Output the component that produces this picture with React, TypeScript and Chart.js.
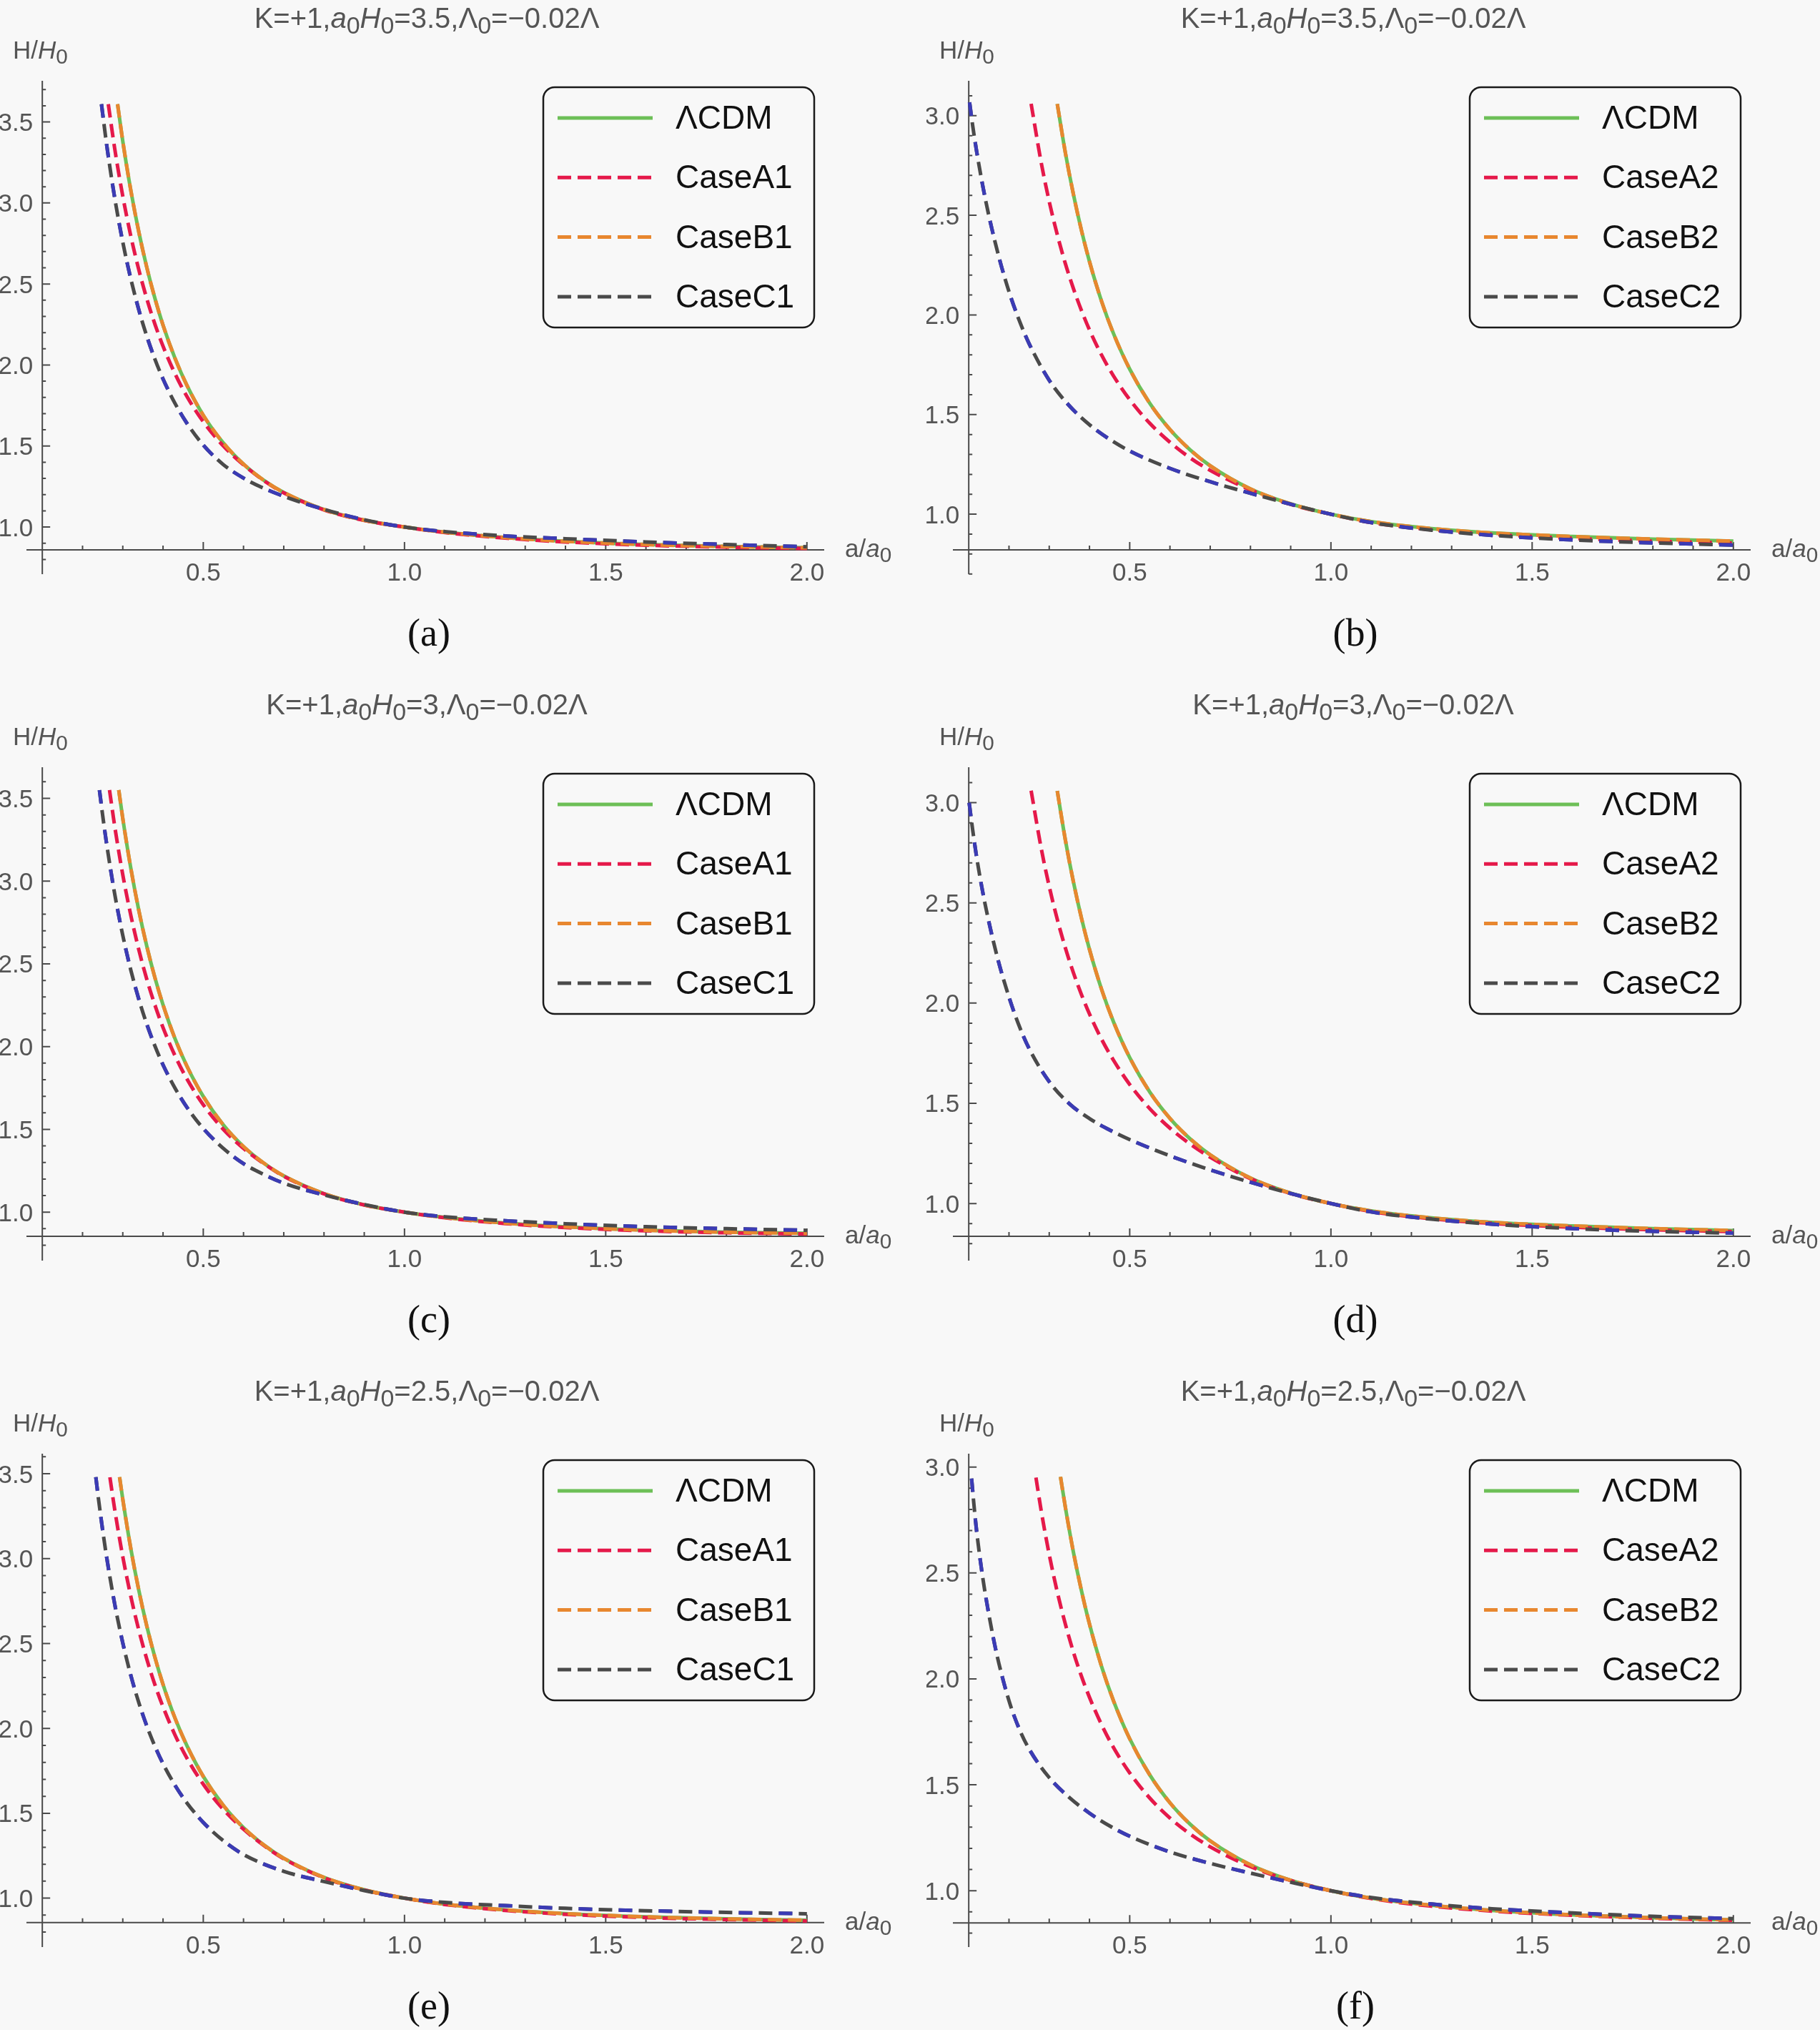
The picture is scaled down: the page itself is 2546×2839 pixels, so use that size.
import React, { useEffect, useRef } from "react";
import { Chart, registerables } from "chart.js";

Chart.register(...registerables);

type Pt = [number, number];

// ---- panel (a): K=+1, a0H0=3.5 ----
const lcdmA: Pt[] = [[0.287, 3.61], [0.30, 3.381], [0.32, 3.077], [0.34, 2.819], [0.36, 2.599], [0.38, 2.41], [0.40, 2.246], [0.43, 2.04], [0.46, 1.871], [0.50, 1.69], [0.55, 1.518], [0.60, 1.388], [0.65, 1.289], [0.70, 1.213], [0.80, 1.108], [0.90, 1.042], [1.0, 1.0], [1.1, 0.968], [1.25, 0.935], [1.4, 0.912], [1.6, 0.892], [1.8, 0.88], [2.0, 0.872]];
const caseA1a: Pt[] = [[0.264, 3.61], [0.28, 3.334], [0.30, 3.042], [0.32, 2.795], [0.34, 2.586], [0.36, 2.406], [0.38, 2.251], [0.40, 2.116], [0.43, 1.945], [0.46, 1.803], [0.50, 1.65], [0.55, 1.5], [0.60, 1.384], [0.65, 1.287], [0.70, 1.211], [0.80, 1.106], [0.90, 1.041], [1.0, 1.0], [1.1, 0.966], [1.25, 0.932], [1.4, 0.908], [1.6, 0.888], [1.8, 0.876], [2.0, 0.868]];
const caseC1a: Pt[] = [[0.247, 3.61], [0.26, 3.358], [0.28, 3.03], [0.30, 2.758], [0.32, 2.531], [0.34, 2.339], [0.36, 2.175], [0.38, 2.035], [0.40, 1.914], [0.43, 1.762], [0.46, 1.638], [0.50, 1.506], [0.55, 1.385], [0.60, 1.302], [0.645, 1.245], [0.72, 1.172], [0.82, 1.095], [0.90, 1.045], [1.0, 1.0], [1.1, 0.972], [1.25, 0.945], [1.4, 0.928], [1.6, 0.908], [1.8, 0.892], [2.0, 0.878]];

// ---- panel (b): K=+1, a0H0=3.5 ----
const lcdmB: Pt[] = [[0.32, 3.059], [0.34, 2.815], [0.36, 2.606], [0.38, 2.425], [0.40, 2.268], [0.43, 2.069], [0.46, 1.905], [0.50, 1.728], [0.55, 1.556], [0.60, 1.425], [0.65, 1.323], [0.70, 1.243], [0.80, 1.127], [0.90, 1.052], [1.0, 1.0], [1.1, 0.963], [1.25, 0.928], [1.4, 0.906], [1.6, 0.888], [1.8, 0.875], [2.0, 0.865]];
const caseA2b: Pt[] = [[0.255, 3.06], [0.28, 2.765], [0.30, 2.569], [0.32, 2.403], [0.34, 2.258], [0.36, 2.133], [0.38, 2.023], [0.40, 1.925], [0.43, 1.799], [0.46, 1.693], [0.50, 1.575], [0.55, 1.456], [0.60, 1.361], [0.65, 1.283], [0.70, 1.22], [0.80, 1.122], [0.90, 1.049], [1.0, 1.0], [1.1, 0.958], [1.25, 0.922], [1.4, 0.899], [1.6, 0.879], [1.8, 0.865], [2.0, 0.855]];
const caseC2b: Pt[] = [[0.102, 3.067], [0.11, 2.947], [0.12, 2.816], [0.135, 2.646], [0.15, 2.498], [0.175, 2.29], [0.20, 2.117], [0.225, 1.975], [0.25, 1.856], [0.30, 1.672], [0.35, 1.544], [0.40, 1.449], [0.45, 1.376], [0.50, 1.317], [0.60, 1.23], [0.70, 1.163], [0.80, 1.105], [0.90, 1.05], [1.0, 1.0], [1.1, 0.958], [1.25, 0.92], [1.4, 0.894], [1.6, 0.871], [1.8, 0.856], [2.0, 0.845]];

// ---- panel (c): K=+1, a0H0=3 ----
const lcdmC: Pt[] = [[0.29, 3.55], [0.30, 3.378], [0.32, 3.077], [0.34, 2.821], [0.36, 2.603], [0.38, 2.415], [0.40, 2.253], [0.43, 2.047], [0.46, 1.879], [0.50, 1.699], [0.55, 1.526], [0.60, 1.396], [0.65, 1.297], [0.70, 1.219], [0.80, 1.112], [0.90, 1.044], [1.0, 1.0], [1.1, 0.968], [1.25, 0.934], [1.4, 0.911], [1.6, 0.891], [1.8, 0.879], [2.0, 0.872]];
const caseA1c: Pt[] = [[0.267, 3.55], [0.28, 3.33], [0.30, 3.038], [0.32, 2.793], [0.34, 2.584], [0.36, 2.404], [0.38, 2.25], [0.40, 2.115], [0.43, 1.944], [0.46, 1.802], [0.50, 1.649], [0.55, 1.5], [0.60, 1.385], [0.65, 1.294], [0.70, 1.217], [0.80, 1.110], [0.90, 1.043], [1.0, 1.0], [1.1, 0.966], [1.25, 0.931], [1.4, 0.907], [1.6, 0.887], [1.8, 0.875], [2.0, 0.868]];
const caseC1c: Pt[] = [[0.242, 3.55], [0.25, 3.397], [0.26, 3.222], [0.28, 2.921], [0.30, 2.672], [0.32, 2.462], [0.34, 2.285], [0.36, 2.133], [0.38, 2.003], [0.40, 1.89], [0.43, 1.748], [0.46, 1.631], [0.50, 1.505], [0.55, 1.385], [0.60, 1.293], [0.65, 1.228], [0.70, 1.175], [0.80, 1.104], [0.90, 1.046], [1.0, 1.0], [1.1, 0.972], [1.25, 0.948], [1.4, 0.93], [1.6, 0.912], [1.8, 0.9], [2.0, 0.89]];

// ---- panel (d): K=+1, a0H0=3 ----
const lcdmD: Pt[] = [[0.32, 3.059], [0.34, 2.815], [0.36, 2.606], [0.38, 2.425], [0.40, 2.268], [0.43, 2.069], [0.46, 1.905], [0.50, 1.728], [0.55, 1.556], [0.60, 1.425], [0.65, 1.323], [0.70, 1.243], [0.80, 1.127], [0.90, 1.052], [1.0, 1.0], [1.1, 0.963], [1.25, 0.928], [1.4, 0.906], [1.6, 0.888], [1.8, 0.875], [2.0, 0.865]];
const caseA2d: Pt[] = [[0.255, 3.06], [0.28, 2.773], [0.30, 2.582], [0.32, 2.418], [0.34, 2.276], [0.36, 2.152], [0.38, 2.043], [0.40, 1.946], [0.43, 1.82], [0.46, 1.714], [0.50, 1.594], [0.55, 1.473], [0.60, 1.376], [0.65, 1.297], [0.70, 1.231], [0.80, 1.124], [0.90, 1.05], [1.0, 1.0], [1.1, 0.96], [1.25, 0.924], [1.4, 0.901], [1.6, 0.882], [1.8, 0.869], [2.0, 0.86]];
const caseC2d: Pt[] = [[0.101, 3.0], [0.11, 2.861], [0.12, 2.723], [0.14, 2.5], [0.17, 2.237], [0.20, 2.03], [0.225, 1.888], [0.25, 1.773], [0.30, 1.608], [0.35, 1.498], [0.40, 1.424], [0.45, 1.367], [0.50, 1.319], [0.60, 1.238], [0.70, 1.168], [0.80, 1.106], [0.90, 1.05], [1.0, 1.0], [1.1, 0.958], [1.25, 0.922], [1.4, 0.897], [1.6, 0.875], [1.8, 0.861], [2.0, 0.852]];

// ---- panel (e): K=+1, a0H0=2.5 ----
const lcdmE: Pt[] = [[0.292, 3.48], [0.30, 3.349], [0.32, 3.058], [0.34, 2.811], [0.36, 2.599], [0.38, 2.417], [0.40, 2.259], [0.43, 2.059], [0.46, 1.895], [0.50, 1.717], [0.55, 1.546], [0.60, 1.415], [0.65, 1.314], [0.70, 1.235], [0.80, 1.122], [0.90, 1.049], [1.0, 1.0], [1.1, 0.965], [1.25, 0.931], [1.4, 0.909], [1.6, 0.89], [1.8, 0.878], [2.0, 0.87]];
const caseA1e: Pt[] = [[0.268, 3.479], [0.28, 3.288], [0.30, 3.011], [0.32, 2.777], [0.34, 2.577], [0.36, 2.405], [0.38, 2.256], [0.40, 2.127], [0.43, 1.96], [0.46, 1.822], [0.50, 1.671], [0.55, 1.522], [0.60, 1.406], [0.65, 1.311], [0.70, 1.232], [0.80, 1.12], [0.90, 1.048], [1.0, 1.0], [1.1, 0.963], [1.25, 0.928], [1.4, 0.905], [1.6, 0.886], [1.8, 0.874], [2.0, 0.866]];
const caseC1e: Pt[] = [[0.233, 3.48], [0.24, 3.344], [0.25, 3.167], [0.26, 3.007], [0.28, 2.731], [0.30, 2.503], [0.32, 2.312], [0.34, 2.15], [0.36, 2.012], [0.38, 1.894], [0.40, 1.792], [0.43, 1.664], [0.46, 1.559], [0.50, 1.446], [0.55, 1.338], [0.60, 1.257], [0.70, 1.158], [0.80, 1.098], [0.90, 1.045], [1.0, 1.0], [1.1, 0.975], [1.25, 0.956], [1.4, 0.94], [1.6, 0.926], [1.8, 0.916], [2.0, 0.908]];

// ---- panel (f): K=+1, a0H0=2.5 ----
const lcdmF: Pt[] = [[0.328, 2.954], [0.34, 2.811], [0.36, 2.599], [0.38, 2.417], [0.40, 2.259], [0.43, 2.059], [0.46, 1.895], [0.50, 1.717], [0.55, 1.546], [0.60, 1.415], [0.65, 1.314], [0.70, 1.235], [0.80, 1.122], [0.90, 1.049], [1.0, 1.0], [1.1, 0.965], [1.25, 0.931], [1.4, 0.907], [1.6, 0.886], [1.8, 0.872], [2.0, 0.862]];
const caseA2f: Pt[] = [[0.267, 2.95], [0.28, 2.794], [0.30, 2.587], [0.32, 2.41], [0.34, 2.259], [0.36, 2.127], [0.38, 2.013], [0.40, 1.913], [0.43, 1.784], [0.46, 1.675], [0.50, 1.556], [0.55, 1.437], [0.60, 1.343], [0.65, 1.268], [0.70, 1.207], [0.80, 1.114], [0.90, 1.048], [1.0, 1.0], [1.1, 0.963], [1.25, 0.927], [1.4, 0.904], [1.6, 0.884], [1.8, 0.87], [2.0, 0.86]];
const caseC2f: Pt[] = [[0.107, 2.946], [0.115, 2.78], [0.12, 2.69], [0.135, 2.475], [0.15, 2.304], [0.17, 2.113], [0.20, 1.897], [0.225, 1.766], [0.25, 1.669], [0.30, 1.534], [0.35, 1.44], [0.40, 1.366], [0.45, 1.306], [0.50, 1.257], [0.60, 1.183], [0.70, 1.129], [0.80, 1.083], [0.90, 1.04], [1.0, 1.0], [1.1, 0.968], [1.25, 0.937], [1.4, 0.915], [1.6, 0.895], [1.8, 0.879], [2.0, 0.868]];

const legendLeft = ["ΛCDM", "CaseA1", "CaseB1", "CaseC1"];
const legendRight = ["ΛCDM", "CaseA2", "CaseB2", "CaseC2"];
const xMajorTicks = [0.5, 1.0, 1.5, 2.0];

const BG = "#f8f8f8";
const GREEN = "#6dbf57";
const RED = "#e5194a";
const ORANGE = "#e8872f";
const GRAY = "#4a4a4a";
const BLUE = "#3b3bb5";
const AXIS = "#4a4a4a";
const LABEL = "#555555";
const SANS = '"Liberation Sans", Arial, Helvetica, sans-serif';
const SERIF = '"Liberation Serif", "Times New Roman", serif';
const DASH = [19, 9];

const PANEL_W = 1250;

interface PanelSpec {
  id: string;
  aH: string;
  names: string[];
  lcdm: Pt[];
  caseA: Pt[];
  caseB: Pt[];
  caseC: Pt[];
  yMin: number;
  yMax: number;
  xAxisAt: number;
}

// CaseB lies right on top of ΛCDM in every panel, so it reuses those values
const panels: PanelSpec[] = [
  { id: "a", aH: "3.5", names: legendLeft, lcdm: lcdmA, caseA: caseA1a, caseB: lcdmA, caseC: caseC1a, yMin: 0.709, yMax: 3.754, xAxisAt: 0.859 },
  { id: "b", aH: "3.5", names: legendRight, lcdm: lcdmB, caseA: caseA2b, caseB: lcdmB, caseC: caseC2b, yMin: 0.699, yMax: 3.175, xAxisAt: 0.821 },
  { id: "c", aH: "3", names: legendLeft, lcdm: lcdmC, caseA: caseA1c, caseB: lcdmC, caseC: caseC1c, yMin: 0.707, yMax: 3.688, xAxisAt: 0.854 },
  { id: "d", aH: "3", names: legendRight, lcdm: lcdmD, caseA: caseA2d, caseB: lcdmD, caseC: caseC2d, yMin: 0.715, yMax: 3.177, xAxisAt: 0.836 },
  { id: "e", aH: "2.5", names: legendLeft, lcdm: lcdmE, caseA: caseA1e, caseB: lcdmE, caseC: caseC1e, yMin: 0.712, yMax: 3.618, xAxisAt: 0.856 },
  { id: "f", aH: "2.5", names: legendRight, lcdm: lcdmF, caseA: caseA2f, caseB: lcdmF, caseC: caseC2f, yMin: 0.734, yMax: 3.063, xAxisAt: 0.848 },
];

type Run = { t: string; it?: boolean; sub?: boolean };

function runFont(r: Run, size: number, family: string) {
  const s = r.sub ? size * 0.85 : size;
  return `${r.it ? "italic " : ""}${s}px ${family}`;
}

// draws a line of mixed italic / subscript text
function drawRich(ctx: CanvasRenderingContext2D, runs: Run[], x: number, y: number, size: number, align: "left" | "center") {
  let w = 0;
  for (const r of runs) {
    ctx.font = runFont(r, size, SANS);
    w += ctx.measureText(r.t).width;
  }
  let cx = align === "center" ? x - w / 2 : x;
  ctx.textAlign = "left";
  for (const r of runs) {
    ctx.font = runFont(r, size, SANS);
    ctx.fillText(r.t, cx, y + (r.sub ? size * 0.2 : 0));
    cx += ctx.measureText(r.t).width;
  }
}

function makeDecor(spec: PanelSpec) {
  return {
    id: "decor",
    beforeDatasetsDraw(chart: any) {
      const ctx: CanvasRenderingContext2D = chart.ctx;
      const { left, right, top, bottom } = chart.chartArea;
      const xs = chart.scales.x;
      const ys = chart.scales.y;
      const ax = xs.getPixelForValue(0.1);
      const ay = ys.getPixelForValue(spec.xAxisAt);
      ctx.save();
      ctx.strokeStyle = AXIS;
      ctx.lineWidth = 2;
      ctx.beginPath();
      ctx.moveTo(left, ay);
      ctx.lineTo(right, ay);
      ctx.moveTo(ax, top);
      ctx.lineTo(ax, bottom);
      // x ticks every 0.1, longer at 0.5
      for (let k = 2; k <= 20; k++) {
        const px = xs.getPixelForValue(k / 10);
        const len = k % 5 === 0 ? 11 : 6;
        ctx.moveTo(px, ay);
        ctx.lineTo(px, ay - len);
      }
      // y ticks every 0.1, longer at 0.5
      for (let k = Math.ceil(spec.yMin * 10); k <= Math.floor(spec.yMax * 10); k++) {
        const py = ys.getPixelForValue(k / 10);
        const len = k % 5 === 0 ? 11 : 5;
        ctx.moveTo(ax, py);
        ctx.lineTo(ax + len, py);
      }
      ctx.stroke();

      ctx.fillStyle = LABEL;
      ctx.font = `35px ${SANS}`;
      ctx.textBaseline = "alphabetic";
      ctx.textAlign = "right";
      for (let k = 10; k <= Math.floor(spec.yMax * 10); k += 5) {
        const py = ys.getPixelForValue(k / 10);
        ctx.fillText((k / 10).toFixed(1), ax - 13, py + 12.5);
      }
      ctx.textAlign = "center";
      for (const v of xMajorTicks) {
        ctx.fillText(v.toFixed(1), xs.getPixelForValue(v), ay + 43);
      }
      drawRich(ctx, [{ t: "H/" }, { t: "H", it: true }, { t: "0", sub: true }], 18, 82, 35, "left");
      drawRich(ctx, [{ t: "a/" }, { t: "a", it: true }, { t: "0", sub: true }], 1182, ay + 10, 35, "left");
      ctx.restore();
    },
    afterDatasetsDraw(chart: any) {
      const ctx: CanvasRenderingContext2D = chart.ctx;
      ctx.save();
      ctx.textBaseline = "alphabetic";
      ctx.fillStyle = LABEL;
      drawRich(
        ctx,
        [
          { t: "K=+1," },
          { t: "a", it: true },
          { t: "0", sub: true },
          { t: "H", it: true },
          { t: "0", sub: true },
          { t: `=${spec.aH},Λ` },
          { t: "0", sub: true },
          { t: "=−0.02Λ" },
        ],
        597,
        39,
        40,
        "center"
      );

      // legend box
      ctx.fillStyle = BG;
      ctx.strokeStyle = "#1a1a1a";
      ctx.lineWidth = 2.5;
      ctx.beginPath();
      ctx.roundRect(760, 122, 379, 336, 16);
      ctx.fill();
      ctx.stroke();
      const entries = [
        { color: GREEN, dash: [] as number[] },
        { color: RED, dash: DASH },
        { color: ORANGE, dash: DASH },
        { color: GRAY, dash: DASH },
      ];
      entries.forEach((e, i) => {
        const y = 165 + i * 83.3;
        ctx.strokeStyle = e.color;
        ctx.lineWidth = 5;
        ctx.setLineDash(e.dash);
        ctx.beginPath();
        ctx.moveTo(780, y);
        ctx.lineTo(913, y);
        ctx.stroke();
        ctx.setLineDash([]);
        ctx.fillStyle = "#111111";
        ctx.font = `46px ${SANS}`;
        ctx.textAlign = "left";
        ctx.fillText(spec.names[i], 945, y + 15);
      });

      // caption
      ctx.fillStyle = "#111111";
      ctx.font = `54px ${SERIF}`;
      ctx.textAlign = "center";
      ctx.fillText(`(${spec.id})`, 600, 903);
      ctx.restore();
    },
  };
}

const toXY = (pts: Pt[]) => pts.map(([x, y]) => ({ x, y }));

function Panel({ spec, left, top, height }: { spec: PanelSpec; left: number; top: number; height: number }) {
  const canvasRef = useRef<HTMLCanvasElement>(null);
  const chartRef = useRef<Chart | null>(null);

  useEffect(() => {
    if (!canvasRef.current) return;
    if (chartRef.current) chartRef.current.destroy();
    const line = { borderWidth: 5, pointRadius: 0, fill: false, cubicInterpolationMode: "monotone" as const };
    chartRef.current = new Chart(canvasRef.current, {
      type: "line",
      data: {
        // first dataset is painted last (on top)
        datasets: [
          { ...line, label: spec.names[3], data: toXY(spec.caseC), borderColor: BLUE, borderDash: [19, 37] },
          { ...line, label: spec.names[3], data: toXY(spec.caseC), borderColor: GRAY, borderDash: DASH },
          { ...line, label: spec.names[2], data: toXY(spec.caseB), borderColor: ORANGE, borderDash: DASH },
          { ...line, label: spec.names[1], data: toXY(spec.caseA), borderColor: RED, borderDash: DASH },
          { ...line, label: spec.names[0], data: toXY(spec.lcdm), borderColor: GREEN },
        ],
      },
      options: {
        animation: false,
        responsive: true,
        maintainAspectRatio: false,
        events: [],
        layout: { padding: { left: 37, top: 113, right: PANEL_W - 1153, bottom: height - 803 } },
        scales: {
          x: { type: "linear", min: 0.0606, max: 2.043, display: false },
          y: { type: "linear", min: spec.yMin, max: spec.yMax, display: false },
        },
        plugins: { legend: { display: false }, tooltip: { enabled: false } },
      },
      plugins: [makeDecor(spec)],
    });
    return () => {
      if (chartRef.current) {
        chartRef.current.destroy();
        chartRef.current = null;
      }
    };
  }, [spec, height]);

  return (
    <div style={{ position: "absolute", left, top, width: PANEL_W, height }}>
      <canvas ref={canvasRef} />
    </div>
  );
}

export default function App() {
  const cols = [0, 1296];
  const rows = [0, 960, 1920];
  const heights = [960, 960, 919];
  return (
    <div style={{ position: "absolute", left: 0, top: 0, width: 2546, height: 2839, background: BG, overflow: "hidden" }}>
      {panels.map((p, i) => (
        <Panel key={p.id} spec={p} left={cols[i % 2]} top={rows[Math.floor(i / 2)]} height={heights[Math.floor(i / 2)]} />
      ))}
    </div>
  );
}
